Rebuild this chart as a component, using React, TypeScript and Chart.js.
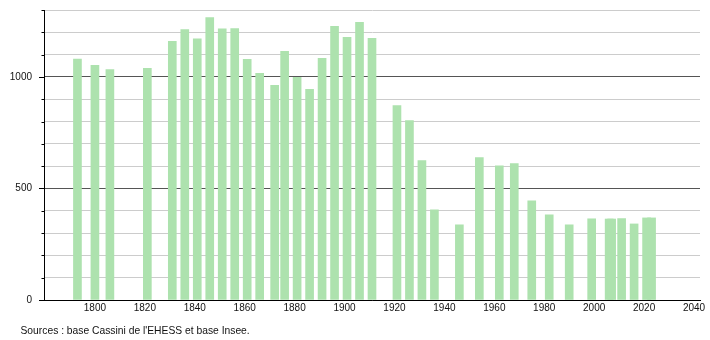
import React, { useEffect, useRef } from "react";
import { Chart, registerables } from "chart.js";

Chart.register(...registerables);

const years = [
  1793, 1800, 1806, 1821, 1831, 1836, 1841, 1846, 1851, 1856, 1861, 1866, 1872,
  1876, 1881, 1886, 1891, 1896, 1901, 1906, 1911, 1921, 1926, 1931, 1936, 1946,
  1954, 1962, 1968, 1975, 1982, 1990, 1999, 2006, 2007, 2011, 2016, 2021, 2023,
];
const population = [
  1080, 1052, 1033, 1038, 1159, 1212, 1171, 1266, 1216, 1217, 1079, 1016, 962,
  1115, 998, 944, 1083, 1227, 1178, 1245, 1173, 872, 804, 625, 404, 337,
  638, 602, 611, 445, 382, 337, 364, 363, 363, 365, 341, 368, 368,
];
const xTickValues = [1800, 1820, 1840, 1860, 1880, 1900, 1920, 1940, 1960, 1980, 2000, 2020, 2040];
const yMajorLabels = [0, 500, 1000];
const sourceText = "Sources : base Cassini de l'EHESS et base Insee.";

const FONT = '"Liberation Sans", Arial, Helvetica, sans-serif';

const decor = {
  id: "decor",
  afterDraw(chart: any) {
    const { ctx, chartArea, scales } = chart;
    const y = scales.y;
    ctx.save();
    ctx.strokeStyle = "#000";
    ctx.lineWidth = 1;
    for (let v = 0; v <= 1300; v += 100) {
      const py = Math.round(y.getPixelForValue(v)) + 0.5;
      const len = yMajorLabels.includes(v) ? 5 : 2.5;
      ctx.beginPath();
      ctx.moveTo(chartArea.left - len, py);
      ctx.lineTo(chartArea.left, py);
      ctx.stroke();
    }
    ctx.fillStyle = "#111";
    ctx.font = `10.3px ${FONT}`;
    ctx.textBaseline = "alphabetic";
    ctx.textAlign = "left";
    ctx.fillText(sourceText, 20.5, 334);
    ctx.restore();
  },
};

export default function App() {
  const ref = useRef<HTMLCanvasElement>(null);
  useEffect(() => {
    if (!ref.current) return;
    const chart = new Chart(ref.current, {
      type: "bar",
      data: {
        datasets: [
          {
            data: years.map((yr, i) => ({ x: yr, y: population[i] })),
            backgroundColor: "rgb(173,226,174)",
            borderWidth: 0,
            barThickness: 8,
          },
        ],
      },
      options: {
        animation: false,
        responsive: false,
        maintainAspectRatio: false,
        layout: { padding: { left: 0, right: 10, top: 10, bottom: 0 } },
        plugins: { legend: { display: false }, tooltip: { enabled: false }, title: { display: false } },
        scales: {
          x: {
            type: "linear",
            min: 1779.6,
            max: 2042.4,
            offset: false,
            grid: { display: false, drawTicks: false },
            border: { display: true, color: "#000", width: 1 },
            afterBuildTicks: (scale: any) => {
              scale.ticks = xTickValues.map((v) => ({ value: v }));
            },
            afterFit: (scale: any) => {
              scale.height = 40;
              scale.paddingLeft = 0;
              scale.paddingRight = 0;
            },
            ticks: {
              maxRotation: 0,
              autoSkip: false,
              padding: 2,
              color: "#111",
              font: { family: FONT, size: 10 },
              callback: (v: any) => String(v),
            },
          },
          y: {
            min: 0,
            max: 1300,
            grid: {
              drawTicks: false,
              color: (c: any) => (yMajorLabels.includes(c.tick?.value) ? "#555" : "#cccccc"),
              lineWidth: 1,
            },
            border: { display: true, color: "#000", width: 1 },
            afterFit: (scale: any) => {
              scale.width = 44;
              scale.paddingTop = 0;
              scale.paddingBottom = 0;
            },
            ticks: {
              stepSize: 100,
              autoSkip: false,
              padding: 12,
              color: "#111",
              font: { family: FONT, size: 10 },
              callback: (v: any) => (yMajorLabels.includes(v) ? String(v) : ""),
            },
          },
        },
      },
      plugins: [decor],
    });
    return () => chart.destroy();
  }, []);
  return (
    <div style={{ position: "fixed", left: 0, top: 0, width: 710, height: 340, background: "#fff" }}>
      <canvas ref={ref} width={710} height={340} style={{ width: 710, height: 340, display: "block" }} />
    </div>
  );
}
